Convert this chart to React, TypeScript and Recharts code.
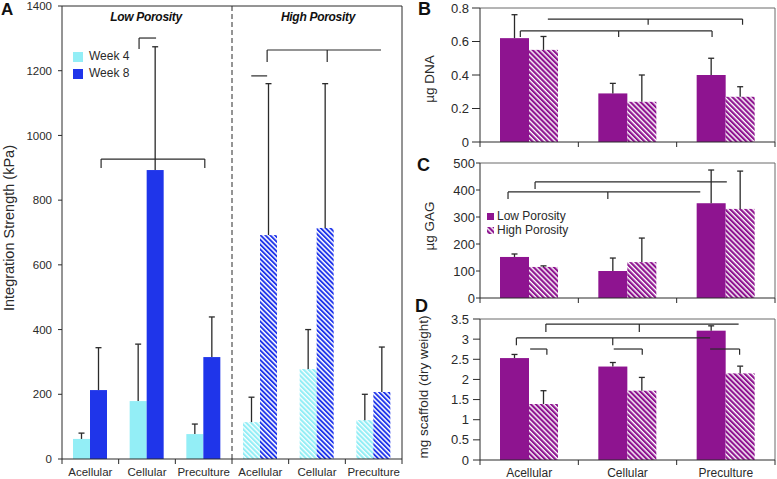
import { BarChart, Bar, XAxis, YAxis, ReferenceLine } from 'recharts'

const FONT = 'Arial, "Liberation Sans", Helvetica, sans-serif'
const INK = '#2a2a2a'
const FRAME = '#6a6a6a'
const CYAN = '#93eef6'
const BLUE = '#1f35ea'
const MAGENTA = '#8e1490'

// Panel A - integration strength (kPa)
const groupsA = ['Acellular', 'Cellular', 'Preculture', 'Acellular', 'Cellular', 'Preculture']
const porosityA = ['low', 'low', 'low', 'high', 'high', 'high']
const week4 = [62, 179, 77, 114, 278, 120]
const week4Sd = [18, 176, 31, 77, 122, 80]
const week8 = [213, 893, 315, 692, 714, 207]
const week8Sd = [131, 381, 124, 468, 446, 139]
const ticksA = [0, 200, 400, 600, 800, 1000, 1200, 1400]

// Panels B-D
const groups = ['Acellular', 'Cellular', 'Preculture']
const dnaLow = [0.62, 0.29, 0.4]
const dnaLowSd = [0.14, 0.06, 0.1]
const dnaHigh = [0.55, 0.24, 0.27]
const dnaHighSd = [0.08, 0.16, 0.06]
const ticksB = [0, 0.2, 0.4, 0.6, 0.8]

const gagLow = [152, 100, 351]
const gagLowSd = [11, 48, 123]
const gagHigh = [115, 133, 330]
const gagHighSd = [4, 89, 140]
const ticksC = [0, 100, 200, 300, 400, 500]

const massLow = [2.53, 2.32, 3.21]
const massLowSd = [0.09, 0.1, 0.12]
const massHigh = [1.39, 1.72, 2.15]
const massHighSd = [0.33, 0.33, 0.18]
const ticksD = [0, 0.5, 1, 1.5, 2, 2.5, 3, 3.5]

// significance brackets, in category units (x) and value units (y)
type Bracket = { x: [number, number]; y: number; drops: number[]; dropTo: number }
const bracketsA: Bracket[] = [
  { x: [1.36, 1.66], y: 1301, drops: [1.36], dropTo: 1267 },
  { x: [0.69, 2.52], y: 927, drops: [0.69, 2.52], dropTo: 899 },
  { x: [3.62, 5.63], y: 1264, drops: [3.62, 4.68], dropTo: 1227 },
  { x: [3.34, 3.62], y: 1184, drops: [], dropTo: 1184 },
]
const bracketsB: Bracket[] = [
  { x: [0.69, 2.67], y: 0.734, drops: [1.71, 2.67], dropTo: 0.7 },
  { x: [0.41, 2.36], y: 0.663, drops: [0.41, 1.41, 2.36], dropTo: 0.627 },
]
const bracketsC: Bracket[] = [
  { x: [0.56, 2.51], y: 430, drops: [0.56], dropTo: 404 },
  { x: [0.285, 2.24], y: 393, drops: [0.285, 1.3], dropTo: 367 },
]
const bracketsD: Bracket[] = [
  { x: [0.67, 2.63], y: 3.375, drops: [0.67, 1.62], dropTo: 3.18 },
  { x: [0.37, 2.34], y: 3.03, drops: [0.37, 1.35], dropTo: 2.85 },
  { x: [0.51, 0.68], y: 2.755, drops: [0.68], dropTo: 2.61 },
  { x: [1.36, 1.65], y: 2.755, drops: [1.65], dropTo: 2.61 },
  { x: [2.34, 2.64], y: 2.755, drops: [2.64], dropTo: 2.61 },
]

// pos = centre of each category on the 0..n helper axis
const dataA = groupsA.map((g, i) => ({
  name: g + i, pos: i + 0.5, hatched: porosityA[i] === 'high',
  w4: week4[i], w4Sd: week4Sd[i], w8: week8[i], w8Sd: week8Sd[i],
}))
const mk = (lo: number[], loSd: number[], hi: number[], hiSd: number[]) =>
  groups.map((g, i) => ({ name: g, pos: i + 0.5, lo: lo[i], loSd: loSd[i], hi: hi[i], hiSd: hiSd[i] }))
const dataB = mk(dnaLow, dnaLowSd, dnaHigh, dnaHighSd)
const dataC = mk(gagLow, gagLowSd, gagHigh, gagHighSd)
const dataD = mk(massLow, massLowSd, massHigh, massHighSd)

function BarErr(props: any) {
  const { x, y, width, height, payload, vk, sk, solid, hatch, alwaysHatch } = props
  const v = payload[vk]
  const top = y - payload[sk] * (height / v)
  const cx = x + width / 2
  const fill = alwaysHatch || payload.hatched ? hatch : solid
  return (
    <g>
      <rect x={x} y={y} width={width} height={height} fill={fill} />
      <line x1={cx} x2={cx} y1={y} y2={top} stroke={INK} strokeWidth={1.3} />
      <line x1={cx - 3} x2={cx + 3} y1={top} y2={top} stroke={INK} strokeWidth={1.3} />
    </g>
  )
}

function bracketLines(list: Bracket[], color: string) {
  const out: any[] = []
  list.forEach((b, i) => {
    out.push(
      <ReferenceLine key={'h' + i} xAxisId="n" stroke={color} strokeWidth={1.2}
        segment={[{ x: b.x[0], y: b.y }, { x: b.x[1], y: b.y }]} />
    )
    b.drops.forEach((d, j) => out.push(
      <ReferenceLine key={'d' + i + '-' + j} xAxisId="n" stroke={color} strokeWidth={1.2}
        segment={[{ x: d, y: b.y }, { x: d, y: b.dropTo }]} />
    ))
  })
  return out
}

// integer ticks -> category boundary marks, half ticks -> category labels
const makeTick = (labels: string[] | null, dy: number, size: number) => (p: any) => {
  const v = p.payload.value
  if (Number.isInteger(v)) {
    return <line x1={p.x} x2={p.x} y1={p.y} y2={p.y + 5} stroke={INK} />
  }
  if (!labels) return <g />
  return (
    <text x={p.x} y={p.y + dy} textAnchor="middle" fontSize={size} fill={INK}>
      {labels[Math.floor(v)]}
    </text>
  )
}

function VLabel({ cx, cy, size, children }: any) {
  return (
    <div style={{
      position: 'absolute', left: cx, top: cy, transform: 'translate(-50%,-50%) rotate(-90deg)',
      whiteSpace: 'nowrap', fontSize: size, lineHeight: 1, color: INK,
    }}>{children}</div>
  )
}

function Letter({ x, y, size, children }: any) {
  return <div style={{ position: 'absolute', left: x, top: y, fontSize: size, fontWeight: 'bold', lineHeight: 1, color: '#111' }}>{children}</div>
}

function Swatch({ color, size }: any) {
  return <svg width={size} height={size} style={{ display: 'block' }}><rect width={size} height={size} fill={color} /></svg>
}

function SmallPanel({ data, ticks, brackets, top, height, mTop, xHeight, labels, tickSize, tickMargin }: any) {
  const max = ticks[ticks.length - 1]
  const half = [0, 0.5, 1, 1.5, 2, 2.5, 3]
  return (
    <div style={{ position: 'absolute', left: 420, top }}>
      <BarChart width={357} height={height} data={data} barGap={0} barSize={29}
        margin={{ top: mTop, right: 2, bottom: 0, left: 0 }}>
        <XAxis xAxisId="c" dataKey="name" hide height={0} />
        <XAxis xAxisId="n" dataKey="pos" type="number" domain={[0, 3]} ticks={half} interval={0} allowDataOverflow
          height={xHeight} stroke={INK} tickLine={false} tickSize={0} tickMargin={0}
          tick={makeTick(labels, 16.5, 12)} />
        <YAxis width={60} domain={[0, max]} ticks={ticks} interval={0} allowDataOverflow
          stroke={INK} tickSize={tickSize} tickMargin={tickMargin}
          tick={{ fontSize: 13, fill: INK }} />
        <ReferenceLine xAxisId="n" y={max} stroke={FRAME} />
        <ReferenceLine xAxisId="n" x={3} stroke={FRAME} />
        {bracketLines(brackets, INK)}
        <Bar xAxisId="c" dataKey="lo" isAnimationActive={false}
          shape={(p: any) => <BarErr {...p} vk="lo" sk="loSd" solid={MAGENTA} hatch={MAGENTA} />} />
        <Bar xAxisId="c" dataKey="hi" isAnimationActive={false}
          shape={(p: any) => <BarErr {...p} vk="hi" sk="hiSd" solid={MAGENTA} hatch="url(#hatchMag)" alwaysHatch />} />
      </BarChart>
    </div>
  )
}

export default function App() {
  const halfA = [0, 0.5, 1, 1.5, 2, 2.5, 3, 3.5, 4, 4.5, 5, 5.5, 6]
  return (
    <div style={{ position: 'absolute', left: 0, top: 0, width: 777, height: 479, background: '#fff', fontFamily: FONT, overflow: 'hidden' }}>
      <svg width={0} height={0} style={{ position: 'absolute' }}>
        <defs>
          <pattern id="hatchCyan" patternUnits="userSpaceOnUse" width={3.4} height={3.4} patternTransform="rotate(-45)">
            <rect width={3.4} height={3.4} fill="#fff" />
            <rect width={2.1} height={3.4} fill={CYAN} />
          </pattern>
          <pattern id="hatchBlue" patternUnits="userSpaceOnUse" width={3.4} height={3.4} patternTransform="rotate(-45)">
            <rect width={3.4} height={3.4} fill="#fff" />
            <rect width={1.9} height={3.4} fill={BLUE} />
          </pattern>
          <pattern id="hatchMag" patternUnits="userSpaceOnUse" width={3.6} height={3.6} patternTransform="rotate(-45)">
            <rect width={3.6} height={3.6} fill="#fff" />
            <rect width={2.2} height={3.6} fill={MAGENTA} />
          </pattern>
        </defs>
      </svg>

      {/* Panel A */}
      <div style={{ position: 'absolute', left: 0, top: 0 }}>
        <BarChart width={410} height={479} data={dataA} barGap={0} barSize={17}
          margin={{ top: 6, right: 8, bottom: 0, left: 0 }}>
          <XAxis xAxisId="c" dataKey="name" hide height={0} />
          <XAxis xAxisId="n" dataKey="pos" type="number" domain={[0, 6]} ticks={halfA} interval={0} allowDataOverflow
            height={20} stroke={INK} tickLine={false} tickSize={0} tickMargin={0}
            tick={makeTick(groupsA, 17, 11.5)} />
          <YAxis width={62} domain={[0, 1400]} ticks={ticksA} interval={0} allowDataOverflow
            stroke={INK} tickSize={4} tickMargin={6} tick={{ fontSize: 11.5, fill: INK }} />
          <ReferenceLine xAxisId="n" y={1400} stroke={INK} />
          <ReferenceLine xAxisId="n" x={6} stroke={INK} />
          <ReferenceLine xAxisId="n" x={3} stroke={INK} strokeDasharray="5 3" />
          {bracketLines(bracketsA, INK)}
          <Bar xAxisId="c" dataKey="w4" isAnimationActive={false}
            shape={(p: any) => <BarErr {...p} vk="w4" sk="w4Sd" solid={CYAN} hatch="url(#hatchCyan)" />} />
          <Bar xAxisId="c" dataKey="w8" isAnimationActive={false}
            shape={(p: any) => <BarErr {...p} vk="w8" sk="w8Sd" solid={BLUE} hatch="url(#hatchBlue)" />} />
        </BarChart>
      </div>

      <div style={{ position: 'absolute', left: 146, top: 10, transform: 'translateX(-50%)', fontSize: 12, fontWeight: 'bold', fontStyle: 'italic', letterSpacing: -0.3, whiteSpace: 'nowrap', color: '#111' }}>Low Porosity</div>
      <div style={{ position: 'absolute', left: 318, top: 10, transform: 'translateX(-50%)', fontSize: 12, fontWeight: 'bold', fontStyle: 'italic', letterSpacing: -0.3, whiteSpace: 'nowrap', color: '#111' }}>High Porosity</div>

      <div style={{ position: 'absolute', left: 73, top: 48, fontSize: 12, color: INK, lineHeight: '17px' }}>
        <div style={{ display: 'flex', alignItems: 'center', gap: 6 }}><Swatch color={CYAN} size={10} />Week 4</div>
        <div style={{ display: 'flex', alignItems: 'center', gap: 6 }}><Swatch color={BLUE} size={10} />Week 8</div>
      </div>

      <VLabel cx={8.5} cy={228} size={14.5}>Integration Strength (kPa)</VLabel>

      {/* Panels B-D */}
      <SmallPanel data={dataB} ticks={ticksB} brackets={bracketsB} top={0} height={150} mTop={8} xHeight={8}
        labels={null} tickSize={8} tickMargin={3} />
      <SmallPanel data={dataC} ticks={ticksC} brackets={bracketsC} top={150} height={156} mTop={13} xHeight={8}
        labels={null} tickSize={4} tickMargin={1} />
      <SmallPanel data={dataD} ticks={ticksD} brackets={bracketsD} top={300} height={179} mTop={19} xHeight={19}
        labels={groups} tickSize={7} tickMargin={4} />

      <div style={{ position: 'absolute', left: 487, top: 209, fontSize: 12, color: INK, lineHeight: '14px' }}>
        <div style={{ display: 'flex', alignItems: 'center', gap: 3 }}><Swatch color={MAGENTA} size={7} />Low Porosity</div>
        <div style={{ display: 'flex', alignItems: 'center', gap: 3 }}><Swatch color="url(#hatchMag)" size={7} />High Porosity</div>
      </div>

      <VLabel cx={430} cy={79} size={13.5}>µg DNA</VLabel>
      <VLabel cx={430} cy={226} size={13.5}>µg GAG</VLabel>
      <VLabel cx={424} cy={387} size={13.5}>mg scaffold (dry weight)</VLabel>

      <Letter x={1} y={1} size={17}>A</Letter>
      <Letter x={418} y={0} size={18}>B</Letter>
      <Letter x={417} y={156} size={18}>C</Letter>
      <Letter x={415} y={297} size={18}>D</Letter>
    </div>
  )
}
